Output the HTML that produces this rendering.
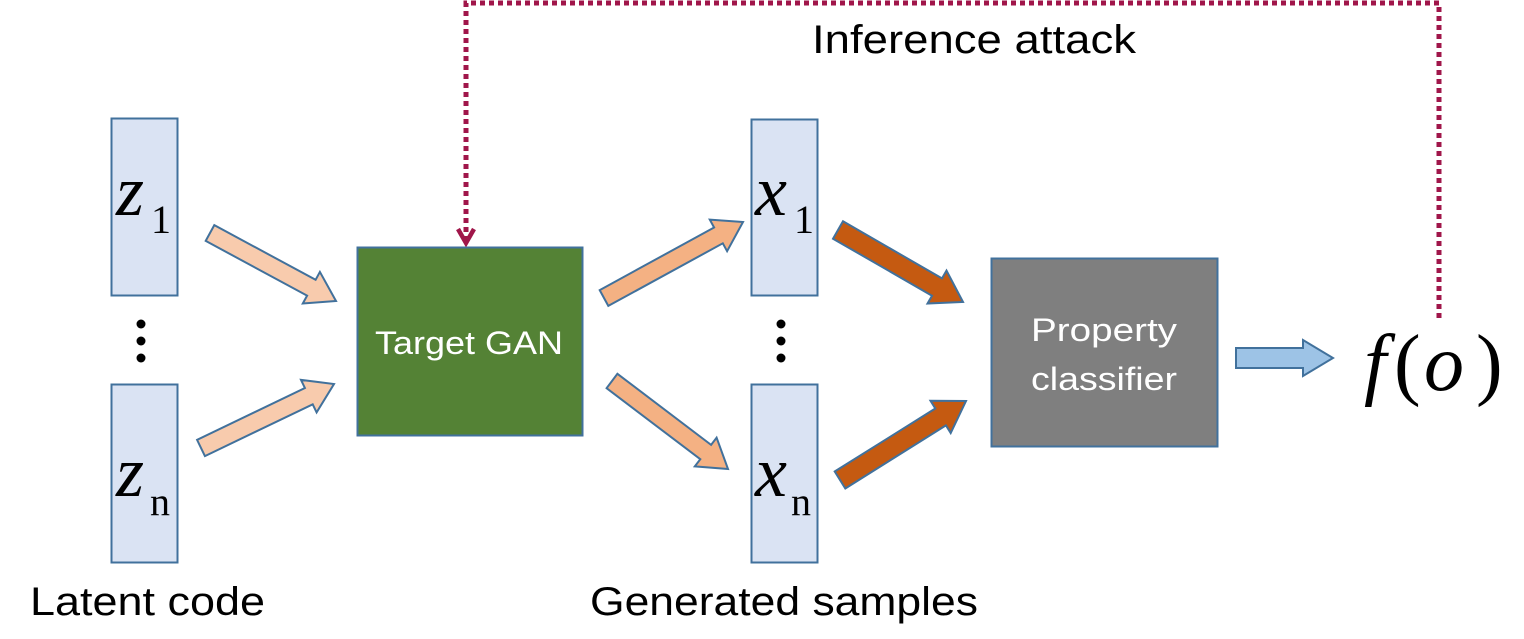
<!DOCTYPE html>
<html><head><meta charset="utf-8"><style>
html,body{margin:0;padding:0;background:#fff;}
svg{display:block;}
</style></head><body>
<svg id="s" width="1524" height="639" viewBox="0 0 1524 639" xmlns="http://www.w3.org/2000/svg">
<rect x="0" y="0" width="1524" height="639" fill="#fff"/>
<polyline points="1439,318 1439,3 466,3 466,242" fill="none" stroke="#A0164A" stroke-width="5" stroke-dasharray="5,4"/>
<polyline points="458,229 466,243 474,229" fill="none" stroke="#A0164A" stroke-width="4.5"/>
<text x="812" y="53" font-family="Liberation Sans, sans-serif" font-size="40" textLength="324" lengthAdjust="spacingAndGlyphs" fill="#000">Inference attack</text>

<rect x="111.5" y="118.5" width="66" height="177" fill="#DAE3F3" stroke="#41719C" stroke-width="2"/>
<rect x="111.5" y="384.5" width="66" height="178" fill="#DAE3F3" stroke="#41719C" stroke-width="2"/>
<text x="116" y="215" font-family="Liberation Serif, serif" font-style="italic" font-size="72">z</text>
<text x="151" y="233" font-family="Liberation Serif, serif" font-size="40">1</text>
<text x="116" y="496" font-family="Liberation Serif, serif" font-style="italic" font-size="72">z</text>
<text x="150" y="515" font-family="Liberation Serif, serif" font-size="40">n</text>
<circle cx="141" cy="324" r="4.5" fill="#000"/><circle cx="141" cy="341" r="4.5" fill="#000"/><circle cx="141" cy="358" r="4.5" fill="#000"/>

<rect x="357.5" y="247.5" width="225" height="188" fill="#548235" stroke="#41719C" stroke-width="2"/>
<text x="469" y="354" text-anchor="middle" font-family="Liberation Sans, sans-serif" font-size="32" textLength="188" lengthAdjust="spacingAndGlyphs" fill="#fff">Target GAN</text>

<rect x="751.5" y="119.5" width="66" height="176" fill="#DAE3F3" stroke="#41719C" stroke-width="2"/>
<rect x="751.5" y="384.5" width="66" height="178" fill="#DAE3F3" stroke="#41719C" stroke-width="2"/>
<text x="755" y="215" font-family="Liberation Serif, serif" font-style="italic" font-size="72">x</text>
<text x="794" y="233" font-family="Liberation Serif, serif" font-size="40">1</text>
<text x="755" y="496" font-family="Liberation Serif, serif" font-style="italic" font-size="72">x</text>
<text x="791" y="515" font-family="Liberation Serif, serif" font-size="40">n</text>
<circle cx="781" cy="324" r="4.5" fill="#000"/><circle cx="781" cy="341" r="4.5" fill="#000"/><circle cx="781" cy="358" r="4.5" fill="#000"/>

<rect x="991.5" y="258.5" width="226" height="188" fill="#7F7F7F" stroke="#41719C" stroke-width="2"/>
<text x="1104" y="341" text-anchor="middle" font-family="Liberation Sans, sans-serif" font-size="32" textLength="146" lengthAdjust="spacingAndGlyphs" fill="#fff">Property</text>
<text x="1104" y="390" text-anchor="middle" font-family="Liberation Sans, sans-serif" font-size="32" textLength="146" lengthAdjust="spacingAndGlyphs" fill="#fff">classifier</text>

<text x="1364" y="390" font-family="Liberation Serif, serif" font-style="italic" font-size="80">f</text>
<text x="1394" y="390" font-family="Liberation Serif, serif" font-size="80">(</text>
<text x="1424" y="390" font-family="Liberation Serif, serif" font-style="italic" font-size="80">o</text>
<text x="1476" y="390" font-family="Liberation Serif, serif" font-size="80">)</text>

<text x="30" y="615" font-family="Liberation Sans, sans-serif" font-size="40" textLength="235" lengthAdjust="spacingAndGlyphs">Latent code</text>
<text x="590" y="615" font-family="Liberation Sans, sans-serif" font-size="40" textLength="388" lengthAdjust="spacingAndGlyphs">Generated samples</text>
<g id="arrows"></g>
</svg>
<script>
function arrow(x1,y1,x2,y2,sw,hw,hl,fill){
  var dx=x2-x1,dy=y2-y1,L=Math.hypot(dx,dy),ux=dx/L,uy=dy/L,px=-uy,py=ux;
  var bx=x2-ux*hl,by=y2-uy*hl;
  var pts=[[x1+px*sw,y1+py*sw],[bx+px*sw,by+py*sw],[bx+px*hw,by+py*hw],[x2,y2],[bx-px*hw,by-py*hw],[bx-px*sw,by-py*sw],[x1-px*sw,y1-py*sw]];
  var p=document.createElementNS("http://www.w3.org/2000/svg","polygon");
  p.setAttribute("points",pts.map(function(a){return a[0].toFixed(1)+","+a[1].toFixed(1)}).join(" "));
  p.setAttribute("fill",fill);p.setAttribute("stroke","#41719C");p.setAttribute("stroke-width","2");
  document.getElementById("arrows").appendChild(p);
}
arrow(210,233,336,301,9,18,28,"#F8CBAD");
arrow(201,448,334,384,9,18,28,"#F8CBAD");
arrow(604,298,743,222,9,18,28,"#F4B183");
arrow(612,381,728,469,9,18,28,"#F4B183");
arrow(838,230,963,302,10,19,30,"#C55A11");
arrow(840,480,966,401,10,19,30,"#C55A11");
arrow(1236,358,1333,358,10,18,30,"#9DC3E6");
</script>
</body></html>
